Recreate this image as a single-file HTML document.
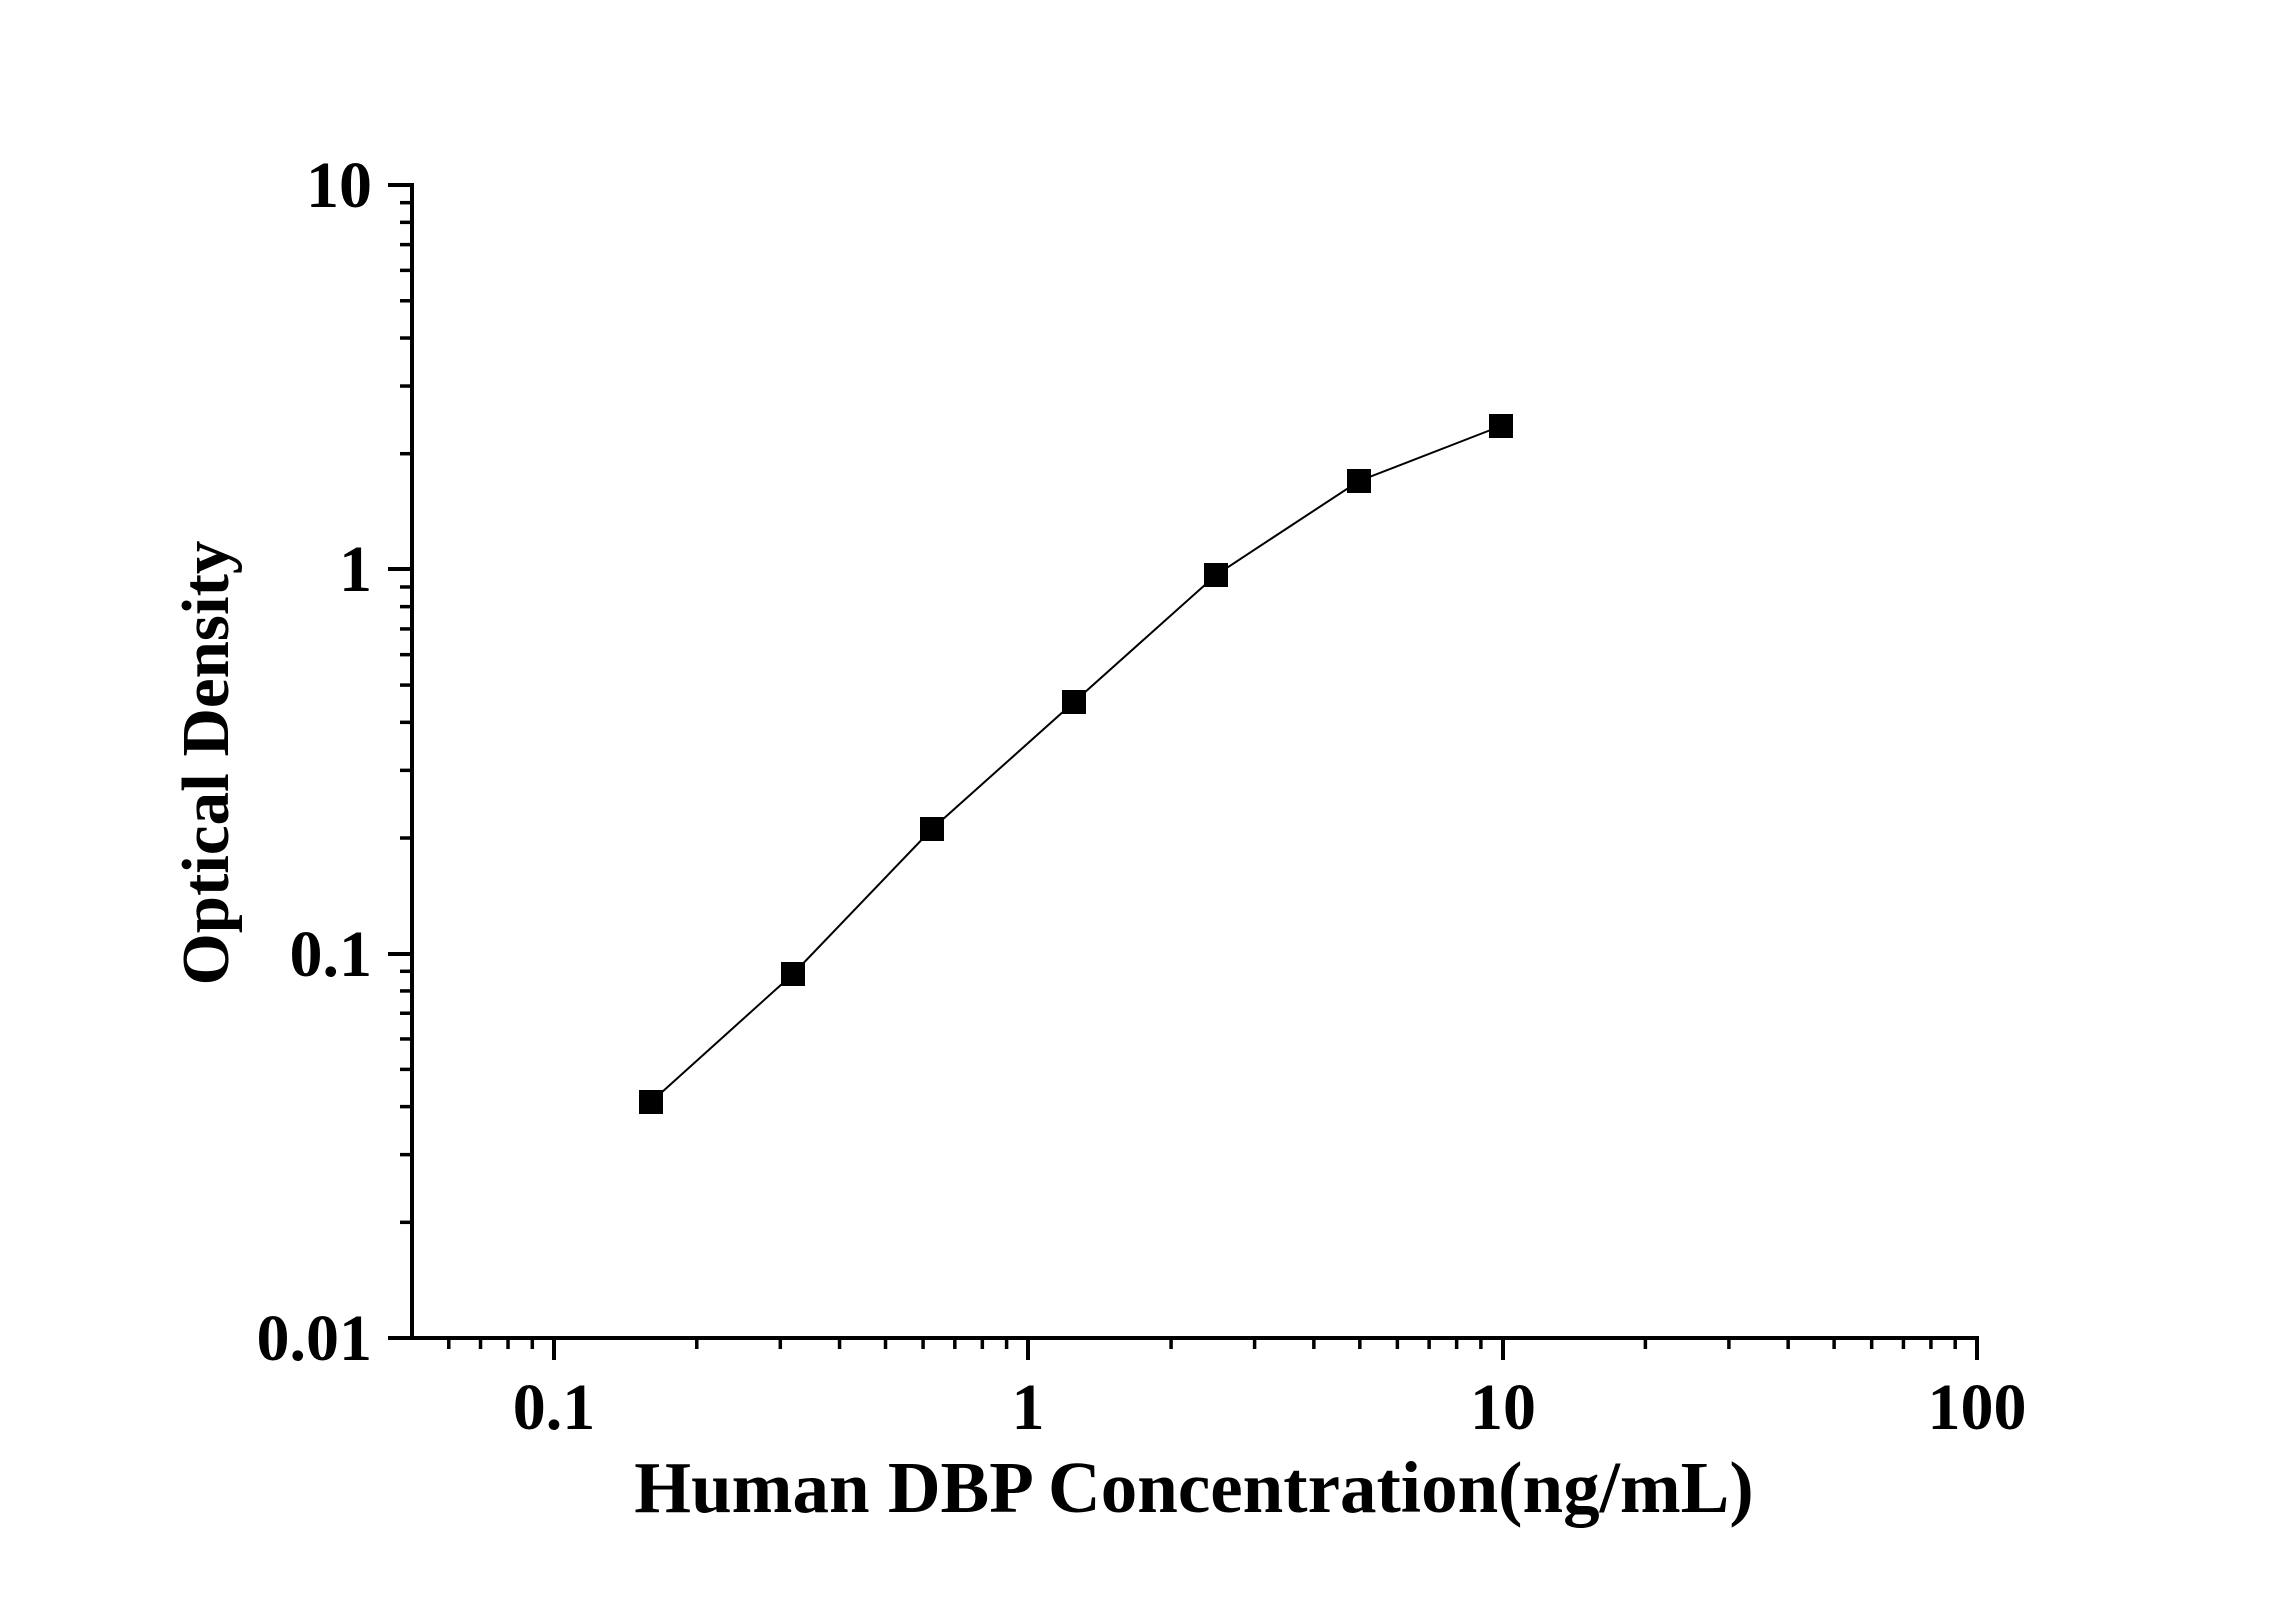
<!DOCTYPE html>
<html><head><style>body{margin:0;background:#fff}</style></head><body>
<svg width="2296" height="1604" xmlns="http://www.w3.org/2000/svg" font-family="Liberation Serif, serif" font-weight="bold">
<g stroke="#000" stroke-width="4" fill="none">
<line x1="412" y1="183" x2="412" y2="1340"/>
<line x1="410" y1="1338" x2="1979" y2="1338"/>
<line x1="388" y1="185" x2="412" y2="185"/>
<line x1="388" y1="569" x2="412" y2="569"/>
<line x1="388" y1="954" x2="412" y2="954"/>
<line x1="388" y1="1338" x2="412" y2="1338"/>
<line x1="554" y1="1338" x2="554" y2="1360"/>
<line x1="1028" y1="1338" x2="1028" y2="1360"/>
<line x1="1503" y1="1338" x2="1503" y2="1360"/>
<line x1="1977" y1="1336" x2="1977" y2="1360"/>
</g>
<g stroke="#000" stroke-width="3.5" id="minors"></g>
<polyline fill="none" stroke="#000" stroke-width="2" points="651,1102 793,974 932,829 1074,702 1216,575 1359,481 1501,426"/>
<g fill="#000">
<rect x="639" y="1090" width="24" height="24"/>
<rect x="781" y="962" width="24" height="24"/>
<rect x="920" y="817" width="24" height="24"/>
<rect x="1062" y="690" width="24" height="24"/>
<rect x="1204" y="563" width="24" height="24"/>
<rect x="1347" y="469" width="24" height="24"/>
<rect x="1489" y="414" width="24" height="24"/>
</g>
<g font-size="66" text-anchor="end">
<text x="372" y="207">10</text>
<text x="372" y="591">1</text>
<text x="372" y="976">0.1</text>
<text x="372" y="1360">0.01</text>
</g>
<g font-size="66" text-anchor="middle">
<text x="554" y="1429">0.1</text>
<text x="1028" y="1429">1</text>
<text x="1503" y="1429">10</text>
<text x="1977" y="1429">100</text>
</g>
<text x="1194" y="1512" font-size="73" text-anchor="middle">Human DBP Concentration(ng/mL)</text>
<text transform="translate(228,763) rotate(-90)" font-size="67" text-anchor="middle">Optical Density</text>
<script>
var g=document.getElementById('minors');
var ns='http://www.w3.org/2000/svg';
function L(a,b,c,d){var l=document.createElementNS(ns,'line');l.setAttribute('x1',a);l.setAttribute('y1',b);l.setAttribute('x2',c);l.setAttribute('y2',d);g.appendChild(l);}
for(var dec=-2;dec<=1;dec++){for(var m=2;m<=9;m++){var v=Math.log10(m)+dec;var x=554+(v+1)*474.3;if(x>414&&x<1977)L(x,1338,x,1349);}}
for(var dec=-2;dec<=0;dec++){for(var m=2;m<=9;m++){var v=Math.log10(m)+dec;var y=1338-(v+2)*384.3;L(400,y,412,y);}}
</script>
</svg>
</body></html>
